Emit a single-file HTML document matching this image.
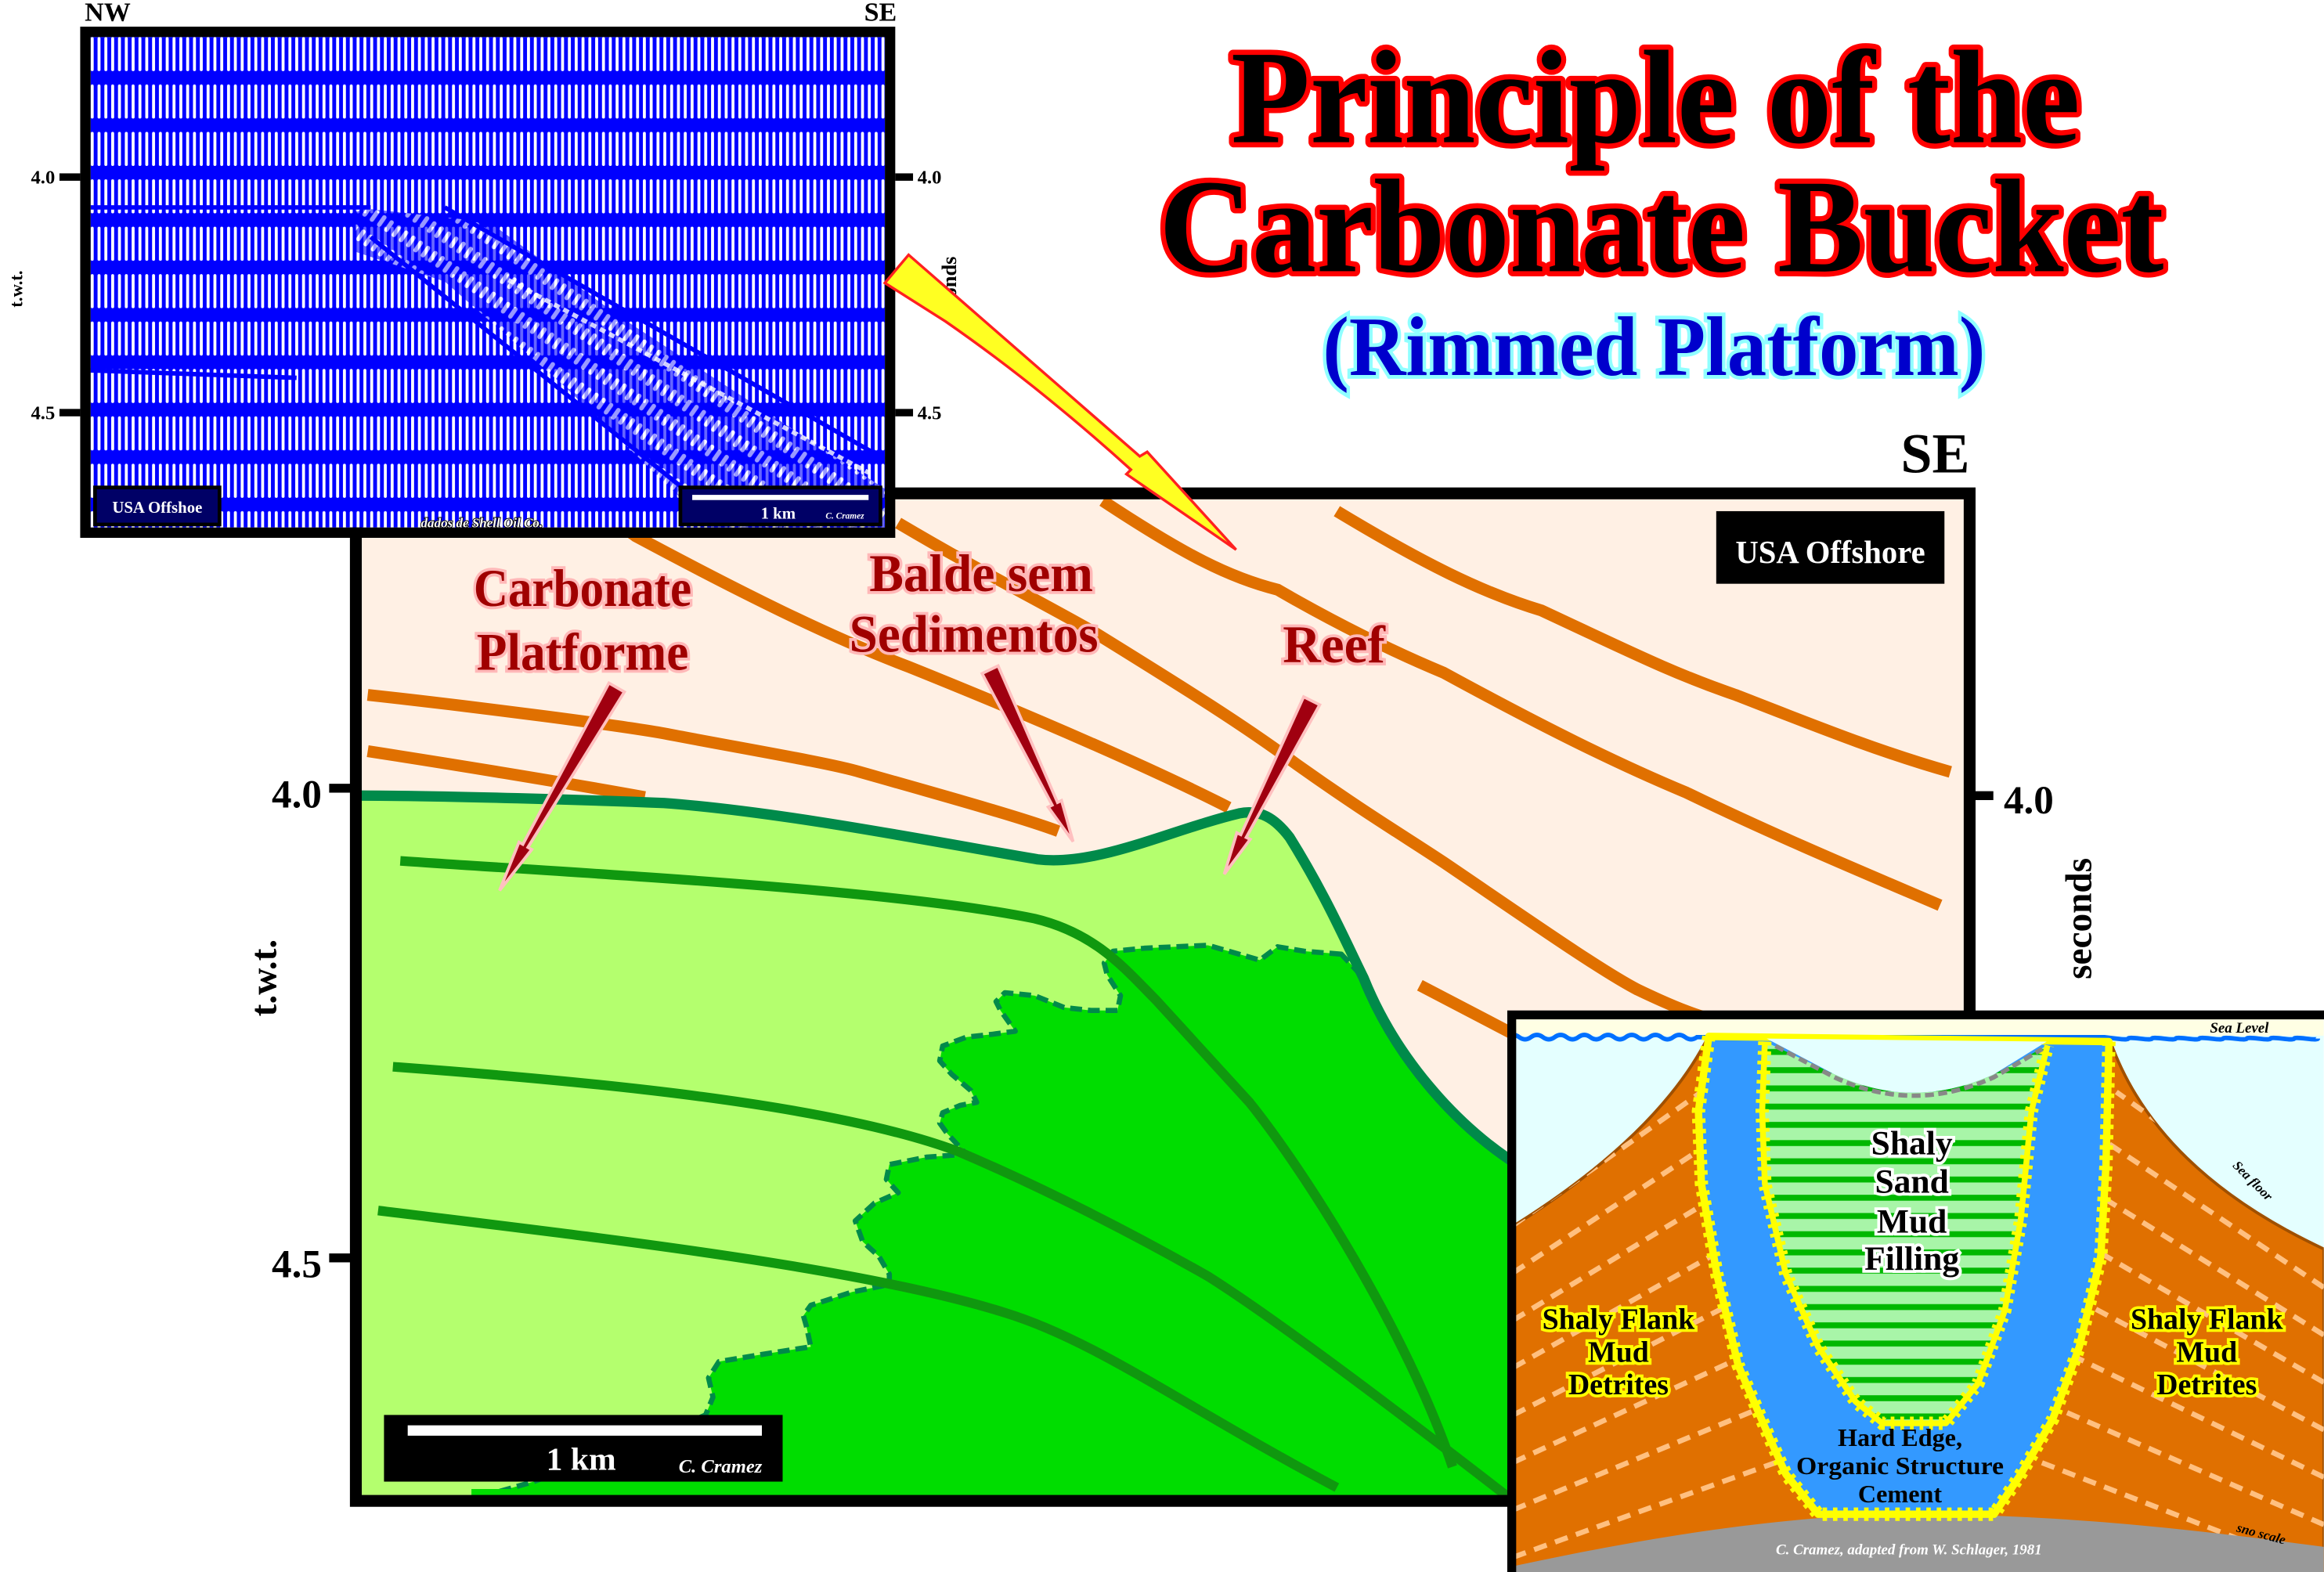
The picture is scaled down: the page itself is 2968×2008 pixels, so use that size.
<!DOCTYPE html>
<html><head><meta charset="utf-8"><style>
html,body{margin:0;padding:0;background:#fff;}
svg{display:block;}
text{font-family:"Liberation Serif",serif;font-weight:bold;}
</style></head><body>
<svg width="2968" height="2008" viewBox="0 0 1568 1061" xmlns="http://www.w3.org/2000/svg">
<defs>
<pattern id="sw" width="4.6" height="32" patternUnits="userSpaceOnUse" patternTransform="translate(0,21)">
<rect width="4.6" height="32" fill="#0000ff"/>
<rect x="1.3" y="4" width="2" height="23" rx="1" fill="#fff"/>
</pattern>
<pattern id="sw2" width="6" height="16" patternUnits="userSpaceOnUse" patternTransform="rotate(35)">
<rect width="6" height="16" fill="#0000ff"/>
<rect x="1" y="2" width="3" height="9" rx="1.5" fill="#fff"/>
</pattern>
<pattern id="stripe" width="20" height="12.3" patternUnits="userSpaceOnUse" patternTransform="translate(0,704)">
<rect width="20" height="12.3" fill="#a8f5a8"/>
<rect y="4" width="20" height="4" fill="#00b800"/>
</pattern>
<clipPath id="seisclip"><rect x="61" y="25" width="536" height="331"/></clipPath>
<clipPath id="insetclip"><rect x="1020" y="685" width="548" height="376"/></clipPath>
<clipPath id="flankclip"><path d="M1017,830 L1023.5,826 Q1120,765 1153,699 L1424,703 Q1455,790 1568,843 L1568,1061 L1017,1061 Z"/></clipPath>
<clipPath id="coreclip"><path d="M1190.8,703 L1189,750 L1190.8,799 L1205,860 L1226.8,909 L1252,946 L1270,960.6 L1313,960.6 L1334.7,933.7 L1352.7,884.6 L1363.5,823.3 L1370.7,750 L1381.5,705.6 L1345.5,725 Q1291,750 1237.6,725 Z"/></clipPath>
</defs>

<!-- MAIN PANEL -->
<rect x="240" y="333" width="1089" height="680" fill="#fff0e4"/>
<g stroke="#e07000" stroke-width="8" fill="none" stroke-linecap="butt">
<path d="M248,469 C330,478 420,490 448,495 C500,505 560,515 580,521 C640,538 690,552 714,561"/>
<path d="M248,507 C300,515 380,528 435,538"/>
<path d="M380,335 C400,345 420,355 429,362 C500,400 560,430 613,450 C700,485 780,520 829,545"/>
<path d="M606,353 C660,385 700,405 737,426 C800,465 840,490 875,516 C920,548 950,566 974,582 C1030,620 1080,655 1105,668 C1130,680 1150,688 1165,690"/>
<path d="M744,338 C800,375 830,390 862,398 C900,420 940,440 974,454 C1040,490 1090,515 1138,535 C1200,565 1260,590 1309,611"/>
<path d="M902,345 C960,380 1000,400 1040,412 C1100,440 1130,455 1171,469 C1230,492 1270,508 1316,521"/>
<path d="M958,665 L1025,700"/>
</g>

<path d="M244,537 C300,537 400,540 448,542 C530,548 640,570 700,580 C740,585 790,560 836,549 C850,546 860,552 870,565 C895,605 910,640 920,660 C940,710 980,760 1030,790 L1060,820 L1060,1009 L244,1009 Z" fill="#b4ff6e"/>
<path d="M905,644 L880,642 L862,639 L850,648 L836,644 L815,638 L793,639 L772,640 L751,642 L745,650 L747,658 L756,672 L754,682 L736,682 L718,680 L698,672 L678,670 L672,676 L675,682 L685,696 L670,698 L652,700 L636,706 L634,716 L642,725 L655,736 L659,744 L648,746 L636,751 L634,758 L639,765 L652,779 L625,781 L600,786 L598,796 L606,805 L590,812 L577,824 L582,838 L593,848 L600,860 L600,867 L575,872 L547,881 L542,888 L544,895 L547,909 L515,914 L485,919 L478,930 L481,943 L476,955 L460,962 L430,975 L400,985 L360,1000 L325,1010 L1060,1010 L1060,820 L1030,790 C980,760 940,710 920,660 Z" fill="#00dd00" stroke="#008a4a" stroke-width="3.5" stroke-dasharray="8 4" stroke-linejoin="round"/>
<rect x="318" y="1005" width="750" height="6" fill="#00dd00"/>
<g stroke="#10980f" stroke-width="6.5" fill="none">
<path d="M270,581 C400,590 600,600 698,620 C740,630 760,655 780,675 L843,744 C880,790 950,900 980,990"/>
<path d="M265,720 C400,730 560,745 646,777 C700,800 760,830 816,862 C860,890 940,950 1030,1020"/>
<path d="M255,817 C400,835 580,855 678,886 C740,905 800,950 902,1004"/>
</g>
<path d="M244,537 C300,537 400,540 448,542 C530,548 640,570 700,580 C740,585 790,560 836,549 C850,546 860,552 870,565 C895,605 910,640 920,660 C940,710 980,760 1030,790" fill="none" stroke="#008a4a" stroke-width="7"/>

<g fill="#a00010" stroke="#ffc0c0" stroke-width="2" stroke-linejoin="miter">
<polygon points="421.2,467 356.1,571.9 358.7,573.4 337,601 350.1,568.4 352.7,569.9 410.8,461"/>
<polygon points="673.4,449.4 713.5,541.6 716.2,540.3 724,568 707.2,544.7 709.9,543.4 662.6,454.6"/>
<polygon points="890.4,475.7 840.8,565.2 843.5,566.5 826,590 834.5,562.1 837.2,563.4 879.6,470.3"/>
</g>
<g fill="#a00000" stroke="#ffb8b8" stroke-width="4" paint-order="stroke" font-size="36" text-anchor="middle">
<text x="393" y="409" textLength="147" lengthAdjust="spacingAndGlyphs">Carbonate</text>
<text x="393" y="452" textLength="143" lengthAdjust="spacingAndGlyphs">Platforme</text>
<text x="662" y="399" textLength="151" lengthAdjust="spacingAndGlyphs">Balde sem</text>
<text x="657" y="440" textLength="168" lengthAdjust="spacingAndGlyphs">Sedimentos</text>
<text x="900" y="447" textLength="69" lengthAdjust="spacingAndGlyphs">Reef</text>
</g>

<rect x="1158" y="345" width="154" height="49" fill="#000"/>
<text x="1235" y="380" fill="#fff" font-size="22" text-anchor="middle" textLength="128" lengthAdjust="spacingAndGlyphs">USA Offshore</text>

<rect x="259" y="955" width="269" height="45" fill="#000"/>
<rect x="275" y="962" width="239" height="7" fill="#fff"/>
<text x="392" y="992" fill="#fff" font-size="22" text-anchor="middle">1 km</text>
<text x="486" y="994" fill="#fff" font-size="13" font-style="italic" text-anchor="middle" font-weight="normal">C. Cramez</text>

<rect x="240" y="333" width="1089" height="680" fill="none" stroke="#000" stroke-width="8"/>
<rect x="222" y="529" width="18" height="6" fill="#000"/>
<rect x="222" y="846" width="18" height="6" fill="#000"/>
<rect x="1329" y="534" width="16" height="6" fill="#000"/>
<text x="217" y="545" font-size="27" text-anchor="end">4.0</text>
<text x="217" y="862" font-size="27" text-anchor="end">4.5</text>
<text x="1352" y="549" font-size="27">4.0</text>
<text transform="translate(186,660) rotate(-90)" font-size="25" text-anchor="middle">t.w.t.</text>
<text transform="translate(1411,620) rotate(-90)" font-size="25" text-anchor="middle">seconds</text>
<text x="1329" y="319" font-size="38" text-anchor="end">SE</text>

<g stroke="#ff0000" stroke-width="7" paint-order="stroke" fill="#000" text-anchor="middle" stroke-linejoin="round">
<text x="1117" y="96" font-size="90" textLength="573" lengthAdjust="spacingAndGlyphs">Principle of the</text>
<text x="1121" y="183" font-size="90" textLength="678" lengthAdjust="spacingAndGlyphs">Carbonate Bucket</text>
</g>
<text x="1116" y="253" font-size="57" text-anchor="middle" fill="#0000cc" stroke="#90ffff" stroke-width="5" paint-order="stroke" textLength="447" lengthAdjust="spacingAndGlyphs">(Rimmed Platform)</text>

<!-- SEISMIC -->
<text transform="translate(645,196) rotate(-90)" font-size="14" text-anchor="middle">seconds</text>
<rect x="61" y="25" width="536" height="331" fill="url(#sw)"/>
<g clip-path="url(#seisclip)">
<polygon points="240,140 330,150 420,215 520,280 597,330 597,356 480,356 380,260 300,190 240,170" fill="url(#sw2)" opacity="0.6"/>
<g stroke="#0000ff" stroke-width="3" fill="none">
<path d="M300,140 L597,310"/><path d="M250,160 L480,345"/>
<path d="M61,140 L250,140"/><path d="M61,250 L200,255"/>
</g>
<g stroke="#fff" stroke-width="3" stroke-dasharray="4 3" fill="none" opacity="0.8">
<path d="M343,189 L586,319"/>
</g>
</g>
<rect x="64" y="329" width="84" height="25" fill="#000066" stroke="#000" stroke-width="2.5"/>
<text x="106" y="346" fill="#fff" font-size="11" text-anchor="middle" font-weight="normal">USA Offshoe</text>
<rect x="459" y="329" width="135" height="25" fill="#000066" stroke="#000" stroke-width="2.5"/>
<rect x="467" y="334" width="119" height="3.5" fill="#fff"/>
<text x="525" y="350" fill="#fff" font-size="11" text-anchor="middle" font-weight="normal">1 km</text>
<text x="570" y="350" fill="#fff" font-size="6" font-style="italic" text-anchor="middle" font-weight="normal">C. Cramez</text>
<text x="325" y="356" fill="#fff" stroke="#000" stroke-width="1" paint-order="stroke" font-size="9" font-style="italic" text-anchor="middle" font-weight="normal">dados de Shell Oil Co.</text>
<rect x="57.5" y="21.5" width="543" height="338" fill="none" stroke="#000" stroke-width="7"/>
<rect x="40" y="117" width="14" height="5" fill="#000"/>
<rect x="40" y="276" width="14" height="5" fill="#000"/>
<rect x="604" y="117" width="12" height="5" fill="#000"/>
<rect x="604" y="276" width="12" height="5" fill="#000"/>
<text x="37" y="124" font-size="13" text-anchor="end">4.0</text>
<text x="37" y="283" font-size="13" text-anchor="end">4.5</text>
<text x="619" y="124" font-size="13">4.0</text>
<text x="619" y="283" font-size="13">4.5</text>
<text transform="translate(15,195) rotate(-90)" font-size="12" text-anchor="middle">t.w.t.</text>
<text x="57" y="14" font-size="18">NW</text>
<text x="605" y="14" font-size="18" text-anchor="end">SE</text>

<path d="M597,191 L613,172 L769,308 L774,305 L834,371 L760,320 L763,317 Q700,260 638,217 Z" fill="#ffff22" stroke="#ff2020" stroke-width="1.8" stroke-linejoin="miter"/>

<!-- INSET -->
<g clip-path="url(#insetclip)">
<rect x="1017" y="682" width="551" height="379" fill="#e4ffff"/>
<rect x="1017" y="682" width="551" height="17" fill="#ffffe4"/>
<path d="M1017,700 q4,-3 8,0 t8,0 t8,0 t8,0 t8,0 t8,0 t8,0 t8,0 t8,0 t8,0 t8,0 t8,0 t8,0 t8,0 t8,0 t8,0 L1420,700 t8,1 t8,0 t8,0 t8,0 t8,0 t8,0 t8,0 t8,0 t8,0 t8,0 t8,0 t8,0 t8,0 t8,0 t8,0 t8,0 t8,0 t8,0" fill="none" stroke="#0070ff" stroke-width="3"/>
<path d="M1017,830 L1023.5,826 Q1120,765 1153,699 L1424,703 Q1455,790 1568,843 L1568,1061 L1017,1061 Z" fill="#e07000" stroke="#a05000" stroke-width="2"/>
<g stroke="#ffc080" stroke-width="3.5" stroke-dasharray="9 6" fill="none" clip-path="url(#flankclip)">
<path d="M1021,795 L1140,705"/><path d="M1021,827 L1148,737"/><path d="M1021,859 L1156,770"/>
<path d="M1021,891 L1164,804"/><path d="M1021,923 L1172,838"/><path d="M1021,955 L1180,874"/>
<path d="M1021,987 L1188,910"/><path d="M1021,1019 L1196,947"/><path d="M1021,1051 L1204,985"/>
<path d="M1568,805 L1436,705"/><path d="M1568,837 L1428,737"/><path d="M1568,869 L1420,770"/>
<path d="M1568,901 L1412,804"/><path d="M1568,933 L1404,838"/><path d="M1568,965 L1396,874"/>
<path d="M1568,997 L1388,910"/><path d="M1568,1029 L1380,947"/><path d="M1568,1061 L1372,985"/>
</g>
<path d="M1017,1058 C1100,1040 1200,1022 1292,1022 C1400,1022 1500,1035 1568,1044 L1568,1061 L1017,1061 Z" fill="#999"/>
<path d="M1153,699.5 L1146,750 L1148,799 L1158.4,860 L1172.8,921.4 L1194,970.5 L1205,995 L1226.8,1022 L1345.5,1022 L1363.5,995 L1385,958 L1403,909 L1417.5,848 L1421,786.5 L1423,703 Z" fill="#3399ff" stroke="#ffff00" stroke-width="5" stroke-linejoin="round"/>
<path d="M1153,699.5 L1146,750 L1148,799 L1158.4,860 L1172.8,921.4 L1194,970.5 L1205,995 L1226.8,1022 L1345.5,1022 L1363.5,995 L1385,958 L1403,909 L1417.5,848 L1421,786.5 L1423,703" fill="none" stroke="#ffff00" stroke-width="9" stroke-dasharray="3 4"/>
<!-- sky above core valley -->
<path d="M1192,701 L1237.6,725 Q1291,750 1345.5,725 L1381,703 Z" fill="#e4ffff"/>
<rect x="1180" y="695" width="210" height="275" fill="url(#stripe)" clip-path="url(#coreclip)"/>
<path d="M1190.8,703 L1189,750 L1190.8,799 L1205,860 L1226.8,909 L1252,946 L1270,960.6 L1313,960.6 L1334.7,933.7 L1352.7,884.6 L1363.5,823.3 L1370.7,750 L1381.5,705.6" fill="none" stroke="#ffff00" stroke-width="4" stroke-linejoin="round"/>
<path d="M1190.8,703 L1189,750 L1190.8,799 L1205,860 L1226.8,909 L1252,946 L1270,960.6 L1313,960.6 L1334.7,933.7 L1352.7,884.6 L1363.5,823.3 L1370.7,750 L1381.5,705.6" fill="none" stroke="#ffff00" stroke-width="9" stroke-dasharray="2.5 4"/>
<path d="M1198,706 L1237.6,727 Q1291,752 1345.5,727 L1378,708" fill="none" stroke="#888" stroke-width="3" stroke-dasharray="6 3"/>
<g font-size="23" text-anchor="middle" fill="#000" stroke="#fff" stroke-width="4" paint-order="stroke">
<text x="1290" y="779">Shaly</text>
<text x="1290" y="805">Sand</text>
<text x="1290" y="832">Mud</text>
<text x="1290" y="857">Filling</text>
</g>
<g font-size="20" text-anchor="middle" fill="#000" stroke="#ffff00" stroke-width="4" paint-order="stroke">
<text x="1092" y="897">Shaly Flank</text>
<text x="1092" y="919">Mud</text>
<text x="1092" y="941">Detrites</text>
<text x="1489" y="897">Shaly Flank</text>
<text x="1489" y="919">Mud</text>
<text x="1489" y="941">Detrites</text>
</g>
<g font-size="17" text-anchor="middle" fill="#000">
<text x="1282" y="976">Hard Edge,</text>
<text x="1282" y="995" textLength="140" lengthAdjust="spacingAndGlyphs">Organic Structure</text>
<text x="1282" y="1014">Cement</text>
</g>
<text x="1511" y="697" font-size="10" font-style="italic" font-weight="normal" text-anchor="middle">Sea Level</text>
<text transform="translate(1518,799) rotate(45)" font-size="9" font-style="italic" font-weight="normal" text-anchor="middle">Sea floor</text>
<text transform="translate(1525,1038) rotate(15)" font-size="9" font-style="italic" font-weight="normal" text-anchor="middle">sno scale</text>
<text x="1288" y="1049" font-size="10" font-style="italic" font-weight="normal" text-anchor="middle" fill="#fff">C. Cramez, adapted from W. Schlager, 1981</text>
</g>
<rect x="1020" y="685" width="560" height="380" fill="none" stroke="#000" stroke-width="6"/>
</svg>
</body></html>
